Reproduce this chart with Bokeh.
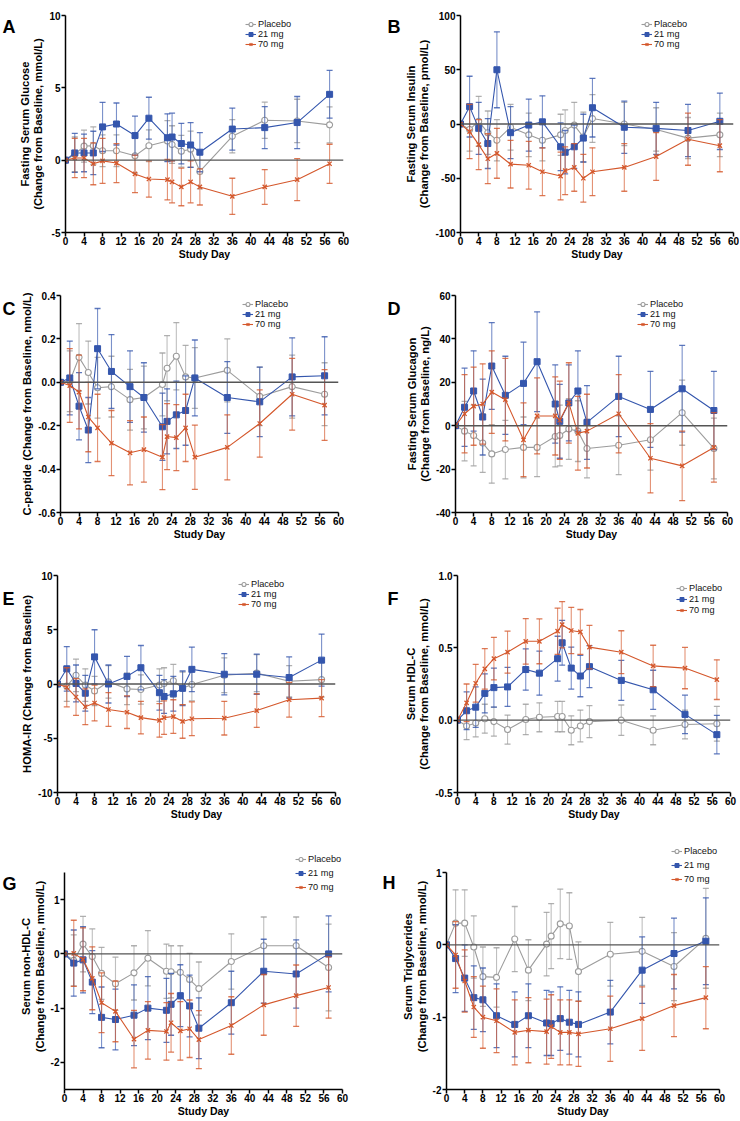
from bokeh.plotting import figure
from bokeh.layouts import column, row
from bokeh.models import (Range1d, FixedTicker, NumeralTickFormatter, Span,
                          Legend, LegendItem)
from bokeh.core.properties import value
from bokeh.embed import file_html
from bokeh.resources import INLINE

# ---------------- data ----------------
days = [0, 2, 4, 6, 8, 11, 15, 18, 22, 23, 25, 27, 29, 36, 43, 50, 57]
series_labels = ["Placebo", "21 mg", "70 mg"]
x_ticks = list(range(0, 61, 4))

# A: Fasting serum glucose
glu_pbo = [0, 0.4, 0.97, 1.0, 0.65, 0.65, 0.3, 1.0, 1.33, 1.08, 0.62, 0.76, -0.78, 1.65, 2.76, 2.71, 2.44]
glu_pbo_se = [0, 1.2, 1.1, 1.3, 1.1, 1.1, 1.2, 1.1, 1.4, 1.3, 1.1, 1.25, 1.2, 1.15, 1.25, 1.5, 1.25]
glu_21 = [0, 0.5, 0.5, 0.5, 2.3, 2.5, 1.7, 2.9, 1.55, 1.6, 1.15, 1.05, 0.55, 2.15, 2.25, 2.6, 4.55]
glu_21_se = [0, 1.35, 1.3, 1.5, 1.7, 1.45, 1.35, 1.45, 1.65, 1.65, 1.4, 1.55, 1.35, 1.45, 1.45, 1.8, 1.65]
glu_70 = [0, 0.15, 0.15, -0.25, -0.05, -0.2, -0.95, -1.3, -1.35, -1.5, -1.85, -1.5, -1.85, -2.5, -1.85, -1.35, -0.25]
glu_70_se = [0, 1.35, 1.35, 1.45, 1.55, 1.35, 1.3, 1.25, 1.4, 1.45, 1.3, 1.45, 1.25, 1.25, 1.2, 1.45, 1.35]

# B: Fasting serum insulin
ins_pbo = [0, -5, 2.5, -8, -15, -3, -10, -15, -10, -6, -1, -12, 5, 0, -5, -13, -10]
ins_pbo_se = [0, 20, 23, 20, 19, 21, 20, 19, 19, 19, 21, 23, 22, 20, 20, 19, 20]
ins_21 = [0, 16, -4, -18, 50, -8, -1, 2, -21, -26, -21, -13, 15, -3, -4, -6, 2.5]
ins_21_se = [0, 28, 24, 23, 35, 24, 24, 24, 22, 20, 20, 22, 27, 24, 24, 24, 26]
ins_70 = [0, -7, -19, -32, -27, -37, -38, -44, -48, -43, -40, -50, -44, -40, -30, -14, -20]
ins_70_se = [0, 25, 23, 23, 23, 22, 22, 22, 22, 22, 22, 22, 22, 22, 22, 24, 24]

# C: C-peptide
cp_pbo = [0, 0.005, 0.115, 0.045, -0.025, -0.02, -0.08, -0.07, -0.01, 0.065, 0.12, 0.025, 0.02, 0.055, -0.065, -0.02, -0.055]
cp_pbo_se = [0, 0.14, 0.155, 0.145, 0.14, 0.14, 0.14, 0.145, 0.145, 0.15, 0.155, 0.145, 0.14, 0.145, 0.135, 0.145, 0.145]
cp_21 = [0, 0.02, -0.11, -0.22, 0.155, 0.05, -0.02, -0.07, -0.205, -0.18, -0.15, -0.13, 0.02, -0.07, -0.09, 0.025, 0.03]
cp_21_se = [0, 0.17, 0.155, 0.15, 0.185, 0.17, 0.165, 0.16, 0.155, 0.15, 0.155, 0.16, 0.175, 0.165, 0.16, 0.18, 0.18]
cp_70 = [0, -0.015, -0.045, -0.16, -0.21, -0.28, -0.325, -0.31, -0.345, -0.25, -0.255, -0.21, -0.345, -0.3, -0.19, -0.055, -0.105]
cp_70_se = [0, 0.17, 0.17, 0.16, 0.155, 0.15, 0.148, 0.15, 0.15, 0.152, 0.152, 0.155, 0.148, 0.15, 0.155, 0.165, 0.163]

# D: Fasting serum glucagon
gcg_pbo = [0, -2.5, -4.5, -8, -13, -11, -10, -10, -5, -4.5, -1.5, -2.5, -10.5, -9, -6.5, 6, -10.5]
gcg_pbo_se = [0, 13.7, 14, 13.5, 13.5, 13.5, 14, 13.5, 14, 14, 14, 14, 13.5, 13.5, 14, 15, 14]
gcg_21 = [0, 8.5, 16, 4, 27.5, 14, 19.5, 29.5, 10, 2, 10.5, 16, 1.5, 13.5, 7.5, 17, 7]
gcg_21_se = [0, 18, 18.5, 17.5, 20, 18, 19, 23, 18, 17, 17.5, 18.5, 17, 18.5, 17.5, 20, 18]
gcg_70 = [0, 5.5, 9, 10, 15.5, 12, -6.5, 4.5, 4.5, 2.5, 10.5, -3.5, -2.5, 5.5, -15, -18.5, -10]
gcg_70_se = [0, 18, 18, 18.5, 19, 19, 17, 17.5, 18, 18, 18.5, 17, 17, 18, 16, 16, 16]

# E: HOMA-IR
homa_pbo = [0, -0.2, 0.8, -0.1, -0.65, 0.2, -0.45, -0.5, -0.1, 0.05, 0.3, -0.4, -0.05, 0.8, 1.0, 0.25, 0.4]
homa_pbo_se = [0, 1.4, 1.5, 1.5, 1.35, 1.5, 1.45, 1.35, 1.5, 1.45, 1.5, 1.5, 1.5, 1.6, 1.7, 1.45, 1.6]
homa_21 = [0, 1.4, 0.05, -0.85, 2.5, 0.0, 0.7, 1.5, -0.8, -1.15, -0.9, -0.4, 1.35, 0.9, 0.9, 0.6, 2.2]
homa_21_se = [0, 2.05, 1.7, 1.65, 2.5, 1.75, 1.85, 2.05, 1.6, 1.55, 1.6, 1.6, 2.05, 1.9, 1.85, 1.9, 2.4]
homa_70 = [0, -0.3, -1.2, -2.1, -1.75, -2.35, -2.6, -3.1, -3.35, -3.1, -3.0, -3.45, -3.2, -3.15, -2.45, -1.45, -1.3]
homa_70_se = [0, 1.8, 1.7, 1.65, 1.65, 1.55, 1.5, 1.5, 1.55, 1.55, 1.55, 1.55, 1.55, 1.55, 1.55, 1.6, 1.7]

# F: Serum HDL-C
hdl_pbo = [0, -0.04, -0.02, 0.01, -0.01, -0.065, 0.005, 0.02, 0.025, 0.025, -0.07, -0.04, -0.01, 0.0, -0.07, -0.03, -0.025]
hdl_pbo_se = [0, 0.095, 0.095, 0.1, 0.1, 0.1, 0.105, 0.1, 0.105, 0.105, 0.1, 0.11, 0.11, 0.105, 0.1, 0.1, 0.12]
hdl_21 = [0, 0.065, 0.09, 0.185, 0.225, 0.23, 0.35, 0.325, 0.425, 0.535, 0.36, 0.305, 0.37, 0.275, 0.21, 0.04, -0.1]
hdl_21_se = [0, 0.13, 0.14, 0.135, 0.135, 0.135, 0.143, 0.152, 0.155, 0.155, 0.145, 0.143, 0.145, 0.138, 0.135, 0.133, 0.133]
hdl_70 = [0, 0.12, 0.255, 0.355, 0.425, 0.47, 0.545, 0.545, 0.615, 0.66, 0.62, 0.61, 0.505, 0.47, 0.375, 0.36, 0.28]
hdl_70_se = [0, 0.13, 0.13, 0.14, 0.147, 0.145, 0.157, 0.155, 0.16, 0.16, 0.16, 0.155, 0.15, 0.148, 0.143, 0.143, 0.137]

# G: Serum non-HDL-C
nhdl_pbo = [0, -0.12, 0.18, -0.05, -0.36, -0.55, -0.35, -0.08, -0.32, -0.33, -0.34, -0.47, -0.64, -0.14, 0.15, 0.15, -0.25]
nhdl_pbo_se = [0, 0.47, 0.51, 0.51, 0.48, 0.49, 0.5, 0.51, 0.5, 0.48, 0.49, 0.48, 0.49, 0.51, 0.53, 0.53, 0.8]
nhdl_21 = [0, -0.17, -0.11, -0.52, -1.17, -1.21, -1.13, -1.0, -1.04, -0.93, -0.77, -0.96, -1.37, -0.9, -0.32, -0.37, 0.0]
nhdl_21_se = [0, 0.61, 0.61, 0.58, 0.56, 0.56, 0.56, 0.58, 0.59, 0.57, 0.57, 0.57, 0.56, 0.58, 0.59, 0.63, 0.7]
nhdl_70 = [0, 0.01, -0.1, -0.45, -0.9, -1.06, -1.57, -1.41, -1.43, -1.27, -1.42, -1.38, -1.58, -1.32, -0.94, -0.77, -0.62]
nhdl_70_se = [0, 0.61, 0.58, 0.58, 0.55, 0.56, 0.53, 0.53, 0.53, 0.54, 0.54, 0.53, 0.535, 0.53, 0.56, 0.565, 0.565]

# H: Serum triglycerides
tg_pbo = [0, 0.3, 0.3, -0.03, -0.44, -0.45, 0.08, -0.35, 0.01, 0.12, 0.29, 0.26, -0.37, -0.13, -0.09, -0.3, 0.09]
tg_pbo_se = [0, 0.46, 0.46, 0.43, 0.41, 0.41, 0.45, 0.42, 0.44, 0.45, 0.48, 0.46, 0.41, 0.44, 0.47, 0.47, 0.69]
tg_21 = [0, -0.19, -0.46, -0.73, -0.76, -0.98, -1.1, -0.98, -1.08, -1.09, -1.02, -1.07, -1.1, -0.93, -0.35, -0.12, 0.05]
tg_21_se = [0, 0.47, 0.46, 0.44, 0.44, 0.44, 0.45, 0.44, 0.45, 0.44, 0.44, 0.44, 0.45, 0.44, 0.46, 0.49, 0.6]
tg_70 = [0, -0.14, -0.5, -0.86, -1.0, -1.05, -1.21, -1.18, -1.2, -1.13, -1.21, -1.21, -1.23, -1.16, -1.02, -0.84, -0.73]
tg_70_se = [0, 0.46, 0.43, 0.42, 0.43, 0.44, 0.45, 0.45, 0.45, 0.44, 0.45, 0.45, 0.45, 0.45, 0.44, 0.43, 0.43]

# ---------------- styling ----------------
FONT = "Liberation Sans"
C_PBO = "#9c9c9c"
C_21 = "#3456ad"
C_70 = "#d4572b"


def draw_series(p, vals, se, color, kind):
    xs = [d for d, s in zip(days, se) if s > 0]
    up = [v + s for v, s in zip(vals, se) if s > 0]
    lo = [v - s for v, s in zip(vals, se) if s > 0]
    p.segment(x0=xs, y0=lo, x1=xs, y1=up, line_color=color, line_alpha=0.65, line_width=1.1)
    p.scatter(x=xs + xs, y=up + lo, marker="dash", size=6, line_color=color,
              line_alpha=0.8, line_width=1.3)
    ln = p.line(days, vals, line_color=color, line_width=1.1)
    if kind == "pbo":
        mk = p.scatter(days, vals, marker="circle", size=6, fill_color="white",
                       line_color=color, line_width=1.1)
    elif kind == "21":
        mk = p.scatter(days, vals, marker="square", size=6, fill_color=color,
                       line_color=color, line_width=1)
    else:
        mk = p.scatter(days, vals, marker="x", size=6, line_color=color, line_width=1.3)
    return [ln, mk]


def letter_fig(letter, width, height, lx, ly):
    p = figure(width=width, height=height, x_range=Range1d(0, width), y_range=Range1d(height, 0),
               x_axis_type=None, y_axis_type=None, output_backend="svg",
               toolbar_location=None, min_border=0)
    p.outline_line_color = None
    p.background_fill_color = "white"
    p.border_fill_color = "white"
    p.text(x=[lx], y=[ly], text=[letter], text_font=value(FONT), text_font_style="bold",
           text_font_size="18px", text_baseline="top", text_align="left", text_color="black")
    return p


def panel(ylabel, yr, ybounds, yticks, yfmt, data, width, height, mbl, mbt, mbb,
          frame_w, leg_x, leg_y, leg_sp):
    mbr = width - mbl - frame_w
    p = figure(width=width, height=height, x_range=Range1d(0, 60), y_range=Range1d(*yr),
               output_backend="svg", toolbar_location=None,
               min_border_left=mbl, min_border_right=mbr,
               min_border_top=mbt, min_border_bottom=mbb)
    p.outline_line_color = None
    p.grid.visible = False
    p.background_fill_color = "white"
    p.border_fill_color = "white"

    for ax in (p.xaxis[0], p.yaxis[0]):
        ax.axis_line_width = 1.5
        ax.axis_line_color = "black"
        ax.major_tick_line_width = 1.5
        ax.major_tick_line_color = "black"
        ax.major_tick_out = 4
        ax.major_tick_in = 0
        ax.minor_tick_out = 0
        ax.minor_tick_in = 0
        ax.major_label_text_font = FONT
        ax.major_label_text_font_style = "bold"
        ax.major_label_text_font_size = "10px"
        ax.major_label_text_color = "black"
        ax.axis_label_text_font = FONT
        ax.axis_label_text_font_style = "bold"
        ax.axis_label_text_color = "black"
    p.xaxis.major_label_standoff = 0
    p.xaxis.axis_label_standoff = 0
    p.yaxis.major_label_standoff = 1
    p.yaxis.axis_label_standoff = 2

    p.xaxis.ticker = FixedTicker(ticks=x_ticks)
    p.xaxis.axis_label = "Study Day"
    p.xaxis.axis_label_text_font_size = "10.5px"
    p.yaxis.ticker = FixedTicker(ticks=yticks)
    p.yaxis.formatter = NumeralTickFormatter(format=yfmt)
    p.yaxis.axis_label = ylabel
    p.yaxis.axis_label_text_font_size = "11.2px"
    p.yaxis.axis_label_text_line_height = 1.1
    if ybounds is not None:
        p.yaxis.bounds = ybounds

    p.add_layout(Span(location=0, dimension="width", line_color="#555555", line_width=1.4))

    kinds = ["pbo", "21", "70"]
    colors = [C_PBO, C_21, C_70]
    items = []
    for (vals, se), kind, color, lab in zip(data, kinds, colors, series_labels):
        rs = draw_series(p, vals, se, color, kind)
        items.append(LegendItem(label=lab, renderers=rs))

    leg = Legend(items=items, location=(leg_x, leg_y), orientation="vertical",
                 border_line_color=None, background_fill_alpha=0,
                 padding=0, margin=0, spacing=leg_sp,
                 label_height=10, glyph_height=10, glyph_width=11, label_standoff=2,
                 label_text_font=FONT, label_text_font_size="9.2px",
                 label_text_color="#111111")
    p.add_layout(leg)
    return p


LW = 16    # left letter strip width
RW = 32    # right letter strip width
LMAIN = 354
RMAIN = 337
LF = 278   # left column frame width
RF = 277   # right column frame width
H1, H2, H3, H4 = 263, 280, 280, 297

lA = letter_fig("A", LW, H1, 2, 2)
pA = panel("Fasting Serum Glucose\n(Change from Baseline, mmol/L)", (-5, 10), None, [-5, 0, 5, 10], "0",
           [(glu_pbo, glu_pbo_se), (glu_21, glu_21_se), (glu_70, glu_70_se)],
           LMAIN, H1, 49, 15, 31, LF, 180, 183, -1)
lB = letter_fig("B", RW, H1, 17, 2)
pB = panel("Fasting Serum Insulin\n(Change from Baseline, pmol/L)", (-100, 100), None, [-100, -50, 0, 50, 100], "0",
           [(ins_pbo, ins_pbo_se), (ins_21, ins_21_se), (ins_70, ins_70_se)],
           RMAIN, H1, 54, 15, 31, RF, 181, 183, -1)

lC = letter_fig("C", LW, H2, 2, 4)
pC = panel("C-peptide (Change from Baseline, nmol/L)", (-0.6, 0.4), None, [-0.6, -0.4, -0.2, 0, 0.2, 0.4], "0.0",
           [(cp_pbo, cp_pbo_se), (cp_21, cp_21_se), (cp_70, cp_70_se)],
           LMAIN, H2, 44, 32, 31, LF, 182, 183, -1)
lD = letter_fig("D", RW, H2, 17, 4)
pD = panel("Fasting Serum Glucagon\n(Change from Baseline, ng/L)", (-40, 60), None, [-40, -20, 0, 20, 40, 60], "0",
           [(gcg_pbo, gcg_pbo_se), (gcg_21, gcg_21_se), (gcg_70, gcg_70_se)],
           RMAIN, H2, 48, 32, 31, RF, 182, 183, -1)

lE = letter_fig("E", LW, H3, 2, 17)
pE = panel("HOMA-IR (Change from Baseline)", (-10, 10), None, [-10, -5, 0, 5, 10], "0",
           [(homa_pbo, homa_pbo_se), (homa_21, homa_21_se), (homa_70, homa_70_se)],
           LMAIN, H3, 41, 32, 31, LF, 181, 183, -1)
lF = letter_fig("F", RW, H3, 17, 17)
pF = panel("Serum HDL-C\n(Change from Baseline, mmol/L)", (-0.5, 1.0), None, [-0.5, 0, 0.5, 1.0], "0.0",
           [(hdl_pbo, hdl_pbo_se), (hdl_21, hdl_21_se), (hdl_70, hdl_70_se)],
           RMAIN, H3, 51, 32, 31, RF, 219, 177, 1)

lG = letter_fig("G", LW, H4, 2, 37)
pG = panel("Serum non-HDL-C\n(Change from Baseline, mmol/L)", (-2.5, 2.035), (-2.5, 1.5), [-2, -1, 0, 1], "0",
           [(nhdl_pbo, nhdl_pbo_se), (nhdl_21, nhdl_21_se), (nhdl_70, nhdl_70_se)],
           LMAIN, H4, 48, 20, 31, LF, 231, 197, 4)
lH = letter_fig("H", 26, H4, 12, 36)
pH = panel("Serum Triglycerides\n(Change from Baseline, mmol/L)", (-2, 1.401), (-2, 1), [-2, -1, 0, 1], "0",
           [(tg_pbo, tg_pbo_se), (tg_21, tg_21_se), (tg_70, tg_70_se)],
           343, H4, 50, 20, 31, 273, 225, 205, 4)

layout = column(row(lA, pA, lB, pB), row(lC, pC, lD, pD),
                row(lE, pE, lF, pF), row(lG, pG, lH, pH))

open("out.html", "w").write(file_html(layout, INLINE))
